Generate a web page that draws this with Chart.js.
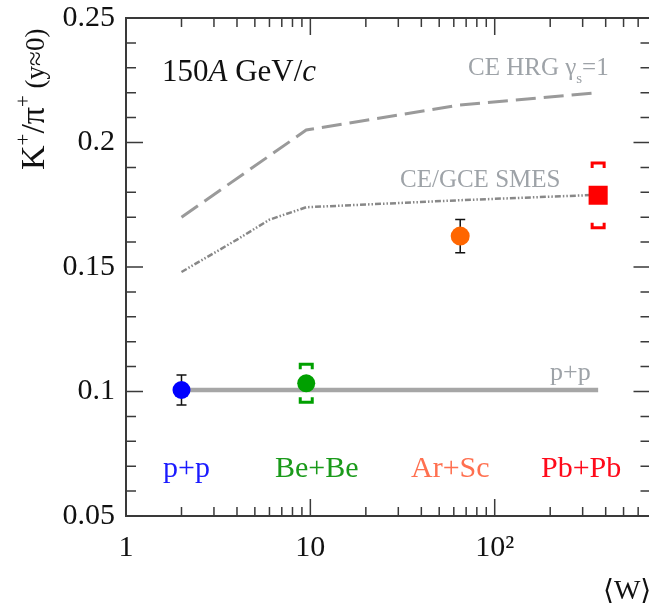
<!DOCTYPE html>
<html>
<head>
<meta charset="utf-8">
<script src="https://cdn.jsdelivr.net/npm/chart.js@4.4.1/dist/chart.umd.min.js"></script>
<style>
  html, body { margin: 0; padding: 0; background: #fff; overflow: hidden; }
  #wrap { width: 664px; height: 611px; }
</style>
</head>
<body>
<div id="wrap"><canvas id="chart" width="664" height="611"></canvas></div>
<script>
// measured points
const systems = ["p+p", "Be+Be", "Ar+Sc", "Pb+Pb"];
const wounded = [2, 9.5, 65, 364];
const kpi = [0.1006, 0.1033, 0.1624, 0.1788];
const statErr = [0.006, 0.0015, 0.0067, 0.0015];
const sysErr = [0, 0.0076, 0, 0.013];
const pointColors = ["#0000ff", "#00a000", "#ff6600", "#ff0000"];
const labelColors = ["#1a1aff", "#1a9a1a", "#ff7050", "#ff0a1a"];

// model curves
const hrgW = [2, 9.5, 64, 364];
const hrgK = [0.170, 0.205, 0.215, 0.220];
const smesW = [2, 4, 6, 9.5, 64, 364];
const smesK = [0.148, 0.161, 0.169, 0.174, 0.1768, 0.179];
const ppW = [2, 364];
const ppK = [0.1006, 0.1006];

// axes
const xTicks = [1, 10, 100];
const xLabels = ["1", "10", "10\u00b2"];
const yTicks = [0.05, 0.1, 0.15, 0.2, 0.25];
const yLabels = ["0.05", "0.1", "0.15", "0.2", "0.25"];

const SERIF = "\"Liberation Serif\", \"Times New Roman\", \"DejaVu Serif\", serif";
const AXIS = "#3a3a3a";

function toXY(xs, ys) {
  return xs.map((v, i) => ({ x: v, y: ys[i] }));
}

function drawRich(ctx, x, y, parts) {
  parts.forEach(p => {
    ctx.font = p.font;
    ctx.fillStyle = p.color;
    ctx.fillText(p.t, x, y + (p.dy || 0));
    x += ctx.measureText(p.t).width;
  });
}

const errorBars = {
  id: "errorBars",
  beforeDatasetsDraw(chart) {
    const { ctx, scales: { x, y } } = chart;
    ctx.save();
    ctx.strokeStyle = "#111";
    ctx.lineWidth = 1.5;
    wounded.forEach((w, i) => {
      if (!statErr[i]) return;
      const px = x.getPixelForValue(w);
      const y1 = y.getPixelForValue(kpi[i] + statErr[i]);
      const y2 = y.getPixelForValue(kpi[i] - statErr[i]);
      ctx.beginPath();
      ctx.moveTo(px, y1); ctx.lineTo(px, y2);
      ctx.moveTo(px - 5, y1); ctx.lineTo(px + 5, y1);
      ctx.moveTo(px - 5, y2); ctx.lineTo(px + 5, y2);
      ctx.stroke();
    });
    ctx.restore();
  },
  afterDatasetsDraw(chart) {
    const { ctx, scales: { x, y } } = chart;
    ctx.save();
    ctx.lineWidth = 3;
    wounded.forEach((w, i) => {
      if (!sysErr[i]) return;
      const px = x.getPixelForValue(w);
      const yt = y.getPixelForValue(kpi[i] + sysErr[i]);
      const yb = y.getPixelForValue(kpi[i] - sysErr[i]);
      ctx.strokeStyle = pointColors[i];
      ctx.beginPath();
      ctx.moveTo(px - 6, yt + 5); ctx.lineTo(px - 6, yt); ctx.lineTo(px + 6, yt); ctx.lineTo(px + 6, yt + 5);
      ctx.moveTo(px - 6, yb - 5); ctx.lineTo(px - 6, yb); ctx.lineTo(px + 6, yb); ctx.lineTo(px + 6, yb - 5);
      ctx.stroke();
    });
    ctx.restore();
  }
};

const frame = {
  id: "frame",
  afterDraw(chart) {
    const { ctx, chartArea: a, scales: { x, y } } = chart;
    ctx.save();
    ctx.strokeStyle = AXIS;
    ctx.lineWidth = 2;
    ctx.strokeRect(a.left, a.top, a.right - a.left, a.bottom - a.top);

    ctx.lineWidth = 1.5;
    ctx.beginPath();
    // y ticks every 0.01, long ones at 0.05
    for (let i = 5; i <= 25; i++) {
      const py = y.getPixelForValue(i / 100);
      const len = i % 5 === 0 ? 17 : 10;
      ctx.moveTo(a.left, py); ctx.lineTo(a.left + len, py);
      ctx.moveTo(a.right, py); ctx.lineTo(a.right - len, py);
    }
    // log x ticks
    for (let d = 1; d <= 100; d *= 10) {
      for (let k = 1; k <= 9; k++) {
        const v = k * d;
        if (v > x.max) break;
        const px = x.getPixelForValue(v);
        const len = k === 1 ? 17 : 9;
        ctx.moveTo(px, a.bottom); ctx.lineTo(px, a.bottom - len);
        ctx.moveTo(px, a.top); ctx.lineTo(px, a.top + len);
      }
    }
    ctx.stroke();

    ctx.textBaseline = "alphabetic";
    ctx.textAlign = "left";

    drawRich(ctx, 162, 81, [
      { t: "150", font: "31px " + SERIF, color: "#111" },
      { t: "A", font: "italic 31px " + SERIF, color: "#111" },
      { t: " GeV/", font: "31px " + SERIF, color: "#111" },
      { t: "c", font: "italic 31px " + SERIF, color: "#111" }
    ]);

    drawRich(ctx, 468, 75, [
      { t: "CE HRG \u03b3", font: "25px " + SERIF, color: "#9ea3a8" },
      { t: "s", font: "15px " + SERIF, color: "#9ea3a8", dy: 8 },
      { t: "=1", font: "25px " + SERIF, color: "#9ea3a8" }
    ]);
    drawRich(ctx, 400, 187, [{ t: "CE/GCE SMES", font: "25px " + SERIF, color: "#9ea3a8" }]);
    drawRich(ctx, 550, 380, [{ t: "p+p", font: "26px " + SERIF, color: "#9ea3a8" }]);

    const labelX = [163, 275, 411, 541];
    systems.forEach((s, i) => {
      drawRich(ctx, labelX[i], 477, [{ t: s, font: "30px " + SERIF, color: labelColors[i] }]);
    });

    drawRich(ctx, 603, 599, [{ t: "\u27e8W\u27e9", font: "28px " + SERIF, color: "#111" }]);

    // rotated y title
    ctx.save();
    ctx.translate(44, 170);
    ctx.rotate(-Math.PI / 2);
    drawRich(ctx, 0, 0, [
      { t: "K", font: "34px " + SERIF, color: "#111" },
      { t: "+", font: "21px " + SERIF, color: "#111", dy: -14 },
      { t: "/\u03c0", font: "34px " + SERIF, color: "#111" },
      { t: "+", font: "21px " + SERIF, color: "#111", dy: -14 },
      { t: " (y\u22480)", font: "27px " + SERIF, color: "#111" }
    ]);
    ctx.restore();

    ctx.restore();
  }
};

new Chart(document.getElementById("chart"), {
  type: "scatter",
  data: {
    datasets: [
      {
        data: toXY(wounded, kpi),
        showLine: false,
        pointStyle: ["circle", "circle", "circle", "rect"],
        pointRadius: [9, 9, 9.5, 13.5],
        pointBackgroundColor: pointColors,
        pointBorderColor: pointColors,
        pointBorderWidth: 0
      },
      {
        data: toXY(ppW, ppK),
        showLine: true,
        pointRadius: 0,
        borderColor: "#a6a6a6",
        borderWidth: 4.5
      },
      {
        data: toXY(hrgW, hrgK),
        showLine: true,
        pointRadius: 0,
        borderColor: "#9a9a9a",
        borderWidth: 3,
        borderDash: [20, 8]
      },
      {
        data: toXY(smesW, smesK),
        showLine: true,
        pointRadius: 0,
        borderColor: "#888888",
        borderWidth: 2.5,
        borderDash: [6, 2, 1.5, 2, 1.5, 2]
      }
    ]
  },
  options: {
    responsive: false,
    animation: false,
    devicePixelRatio: 1,
    layout: { padding: { top: 18, right: 10, left: 0, bottom: 0 } },
    plugins: {
      legend: { display: false },
      tooltip: { enabled: false }
    },
    scales: {
      x: {
        type: "logarithmic",
        min: 1,
        max: 700,
        grid: { display: false, drawTicks: false },
        border: { display: false },
        afterBuildTicks: s => { s.ticks = xTicks.map(v => ({ value: v, major: true })); },
        afterFit: s => { s.height = 95; s.paddingLeft = 0; s.paddingRight = 0; },
        ticks: {
          autoSkip: false,
          maxRotation: 0,
          padding: 14,
          color: "#111",
          font: { family: SERIF, size: 30 },
          callback: (v, i) => xLabels[i]
        }
      },
      y: {
        min: 0.05,
        max: 0.25,
        grid: { display: false, drawTicks: false },
        border: { display: false },
        afterBuildTicks: s => { s.ticks = yTicks.map(v => ({ value: v })); },
        afterFit: s => { s.width = 126; s.paddingTop = 0; s.paddingBottom = 0; },
        ticks: {
          padding: 11,
          color: "#111",
          font: { family: SERIF, size: 30 },
          callback: (v, i) => yLabels[i]
        }
      }
    }
  },
  plugins: [errorBars, frame]
});
</script>
</body>
</html>
